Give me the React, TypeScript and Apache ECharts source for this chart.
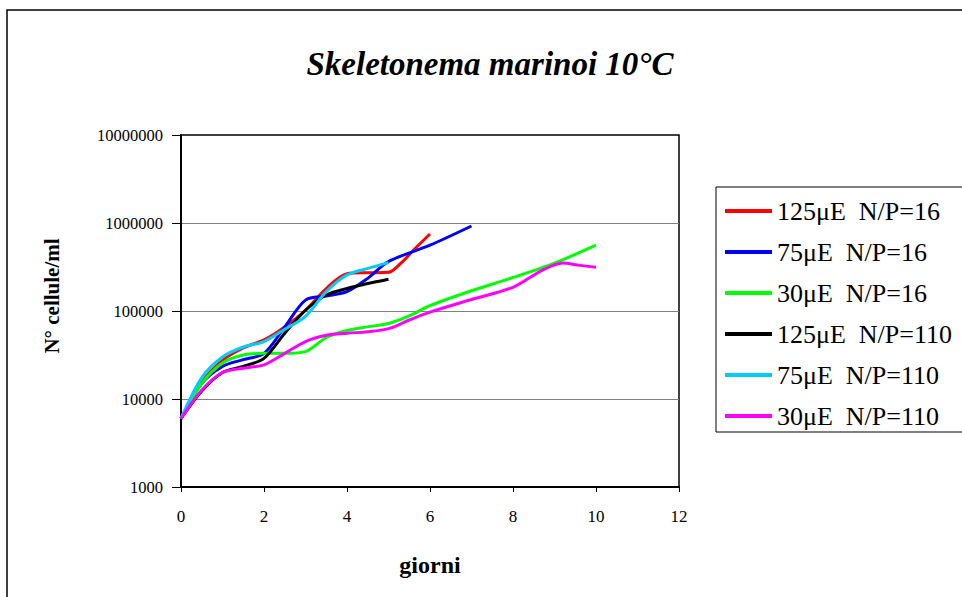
import React, { useEffect, useRef } from "react";
import * as echarts from "echarts";

const seriesNames = [
  "125μE  N/P=16",
  "75μE  N/P=16",
  "30μE  N/P=16",
  "125μE  N/P=110",
  "75μE  N/P=110",
  "30μE  N/P=110",
];

const seriesColors = ["#FF0000", "#0000FF", "#00FF00", "#000000", "#00CCFF", "#FF00FF"];

const red16: [number, number][] = [
  [0, 6000], [0.5, 15500], [1, 27500], [1.5, 38000], [2, 47000], [2.5, 66000],
  [3, 102000], [3.5, 180000], [4, 265000], [4.5, 272000], [5, 275000],
  [5.3, 350000], [5.6, 490000], [6, 750000],
];
const blue16: [number, number][] = [
  [0, 6000], [0.5, 15000], [1, 23500], [1.5, 28000], [2, 33000], [2.5, 66000],
  [3, 133000], [3.5, 148000], [4, 166000], [4.5, 235000], [5, 365000],
  [6, 560000], [7, 925000],
];
const green16: [number, number][] = [
  [0, 6000], [0.5, 15000], [1, 25700], [1.5, 31600], [2, 33000], [2.5, 33000],
  [3, 34500], [3.5, 50000], [4, 60000], [4.5, 66000], [5, 72000], [5.5, 88000],
  [6, 115000], [7, 170000], [8, 240000], [9, 350000], [10, 560000],
];
const black110: [number, number][] = [
  [0, 6000], [0.5, 12300], [1, 20000], [1.5, 23500], [2, 29000], [2.5, 56000],
  [3, 102000], [3.5, 152000], [4, 180000], [4.5, 205000], [5, 230000],
];
const cyan110: [number, number][] = [
  [0, 6000], [0.5, 17500], [1, 30000], [1.5, 39000], [2, 45000], [2.5, 62000],
  [3, 87000], [3.5, 166000], [4, 257000], [4.5, 305000], [5, 355000],
];
const magenta110: [number, number][] = [
  [0, 6000], [0.5, 12600], [1, 20000], [1.5, 22400], [2, 24400], [2.5, 33000],
  [3, 45000], [3.5, 53000], [4, 56000], [4.5, 58000], [5, 63000], [5.5, 79000],
  [6, 97000], [7, 135000], [8, 186000], [8.7, 290000], [9.2, 350000],
  [9.6, 330000], [10, 315000],
];

const allData = [red16, blue16, green16, black110, cyan110, magenta110];

const xMin = 0;
const xMax = 12;
const xInterval = 2;
const yMin = 1000;
const yMax = 10000000;

const FONT = "'Liberation Serif', 'Times New Roman', serif";

export default function App() {
  const ref = useRef<HTMLDivElement>(null);

  useEffect(() => {
    document.body.style.margin = "0";
    if (!ref.current) return;
    const chart = echarts.init(ref.current, undefined, { renderer: "svg" });
    const option: any = {
      animation: false,
      backgroundColor: "#ffffff",
      grid: {
        left: 181,
        top: 135,
        width: 498,
        height: 352,
        show: true,
        borderColor: "#000000",
        borderWidth: 1.5,
        backgroundColor: "transparent",
      },
      xAxis: {
        type: "value",
        min: xMin,
        max: xMax,
        interval: xInterval,
        axisLine: { show: true, onZero: false, lineStyle: { color: "#000", width: 2 } },
        axisTick: { show: true, inside: false, length: 5, lineStyle: { color: "#000", width: 1 } },
        axisLabel: { color: "#000", fontFamily: FONT, fontSize: 17, margin: 21 },
        splitLine: { show: false },
      },
      yAxis: {
        type: "log",
        logBase: 10,
        min: yMin,
        max: yMax,
        axisLine: { show: true, lineStyle: { color: "#000", width: 2 } },
        axisTick: { show: true, inside: false, length: 9, lineStyle: { color: "#000", width: 1 } },
        axisLabel: {
          color: "#000",
          fontFamily: FONT,
          fontSize: 16.5,
          margin: 18,
          formatter: (v: number) => String(Math.round(v)),
        },
        splitLine: {
          show: true,
          showMinLine: false,
          showMaxLine: false,
          lineStyle: { color: "#808080", width: 1 },
        },
      },
      legend: {
        show: true,
        orient: "vertical",
        left: 725,
        top: 198,
        itemWidth: 47,
        itemHeight: 4,
        itemGap: 15,
        icon: "rect",
        padding: 0,
        data: seriesNames,
        textStyle: { color: "#000", fontFamily: FONT, fontSize: 26 },
      },
      series: seriesNames.map((name, i) => ({
        name,
        type: "line",
        data: allData[i],
        smooth: 0.3,
        showSymbol: false,
        symbol: "none",
        lineStyle: { color: seriesColors[i], width: 3 },
        itemStyle: { color: seriesColors[i] },
        z: 2 + i,
      })),
      graphic: [
        {
          type: "rect",
          shape: { x: 7, y: 10, width: 990, height: 620 },
          style: { fill: "none", stroke: "#000", lineWidth: 1.5 },
          silent: true,
        },
        {
          type: "rect",
          shape: { x: 716, y: 187, width: 260, height: 245 },
          style: { fill: "none", stroke: "#000", lineWidth: 1 },
          silent: true,
        },
        {
          type: "text",
          x: 490,
          y: 64,
          style: {
            text: "Skeletonema marinoi 10°C",
            fontFamily: FONT,
            fontSize: 33,
            fontWeight: "bold",
            fontStyle: "italic",
            fill: "#000",
            textAlign: "center",
            textVerticalAlign: "middle",
          },
        },
        {
          type: "text",
          x: 52,
          y: 296,
          rotation: Math.PI / 2,
          style: {
            text: "N° cellule/ml",
            fontFamily: FONT,
            fontSize: 21,
            fontWeight: "bold",
            fill: "#000",
            textAlign: "center",
            textVerticalAlign: "middle",
          },
        },
        {
          type: "text",
          x: 430,
          y: 565,
          style: {
            text: "giorni",
            fontFamily: FONT,
            fontSize: 24,
            fontWeight: "bold",
            fill: "#000",
            textAlign: "center",
            textVerticalAlign: "middle",
          },
        },
      ],
    };
    chart.setOption(option);
    return () => {
      chart.dispose();
    };
  }, []);

  return (
    <div
      ref={ref}
      style={{ position: "fixed", left: 0, top: 0, width: 962, height: 597 }}
    />
  );
}
